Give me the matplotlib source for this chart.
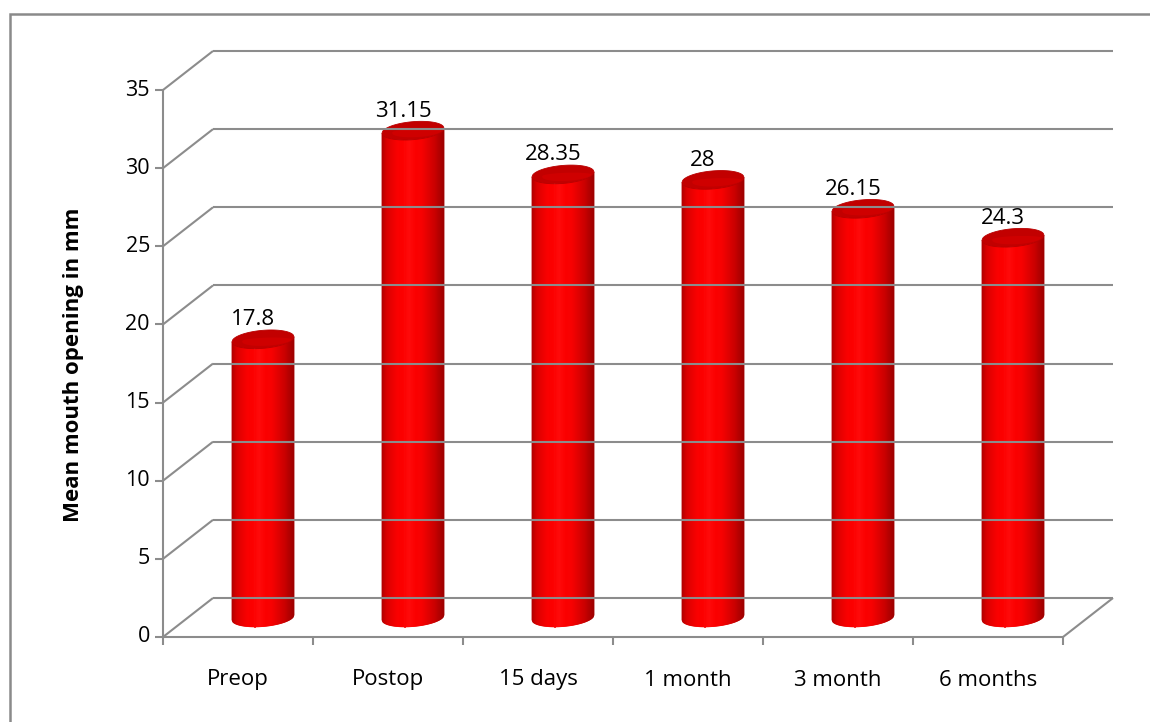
import numpy as np
import matplotlib
matplotlib.use("Agg")
import matplotlib.pyplot as plt
from matplotlib.patches import Polygon, Rectangle
from matplotlib.lines import Line2D
from matplotlib.transforms import IdentityTransform

plt.rcParams['font.family'] = ['Open Sans', 'DejaVu Sans']

categories = ["Preop", "Postop", "15 days", "1 month", "3 month", "6 months"]
mean_opening = [17.8, 31.15, 28.35, 28, 26.15, 24.3]
value_labels = ["17.8", "31.15", "28.35", "28", "26.15", "24.3"]
y_ticks = [0, 5, 10, 15, 20, 25, 30, 35]
y_label = "Mean mouth opening in mm"

W, H = 1150, 722
DX, DY = 50, 39          # depth of the floor / back wall in pixels
GRID = "#8c8c8c"

fig = plt.figure(figsize=(W / 100, H / 100), dpi=100)
ax = fig.add_axes([163 / W, (H - 637) / H, 900 / W, 547 / H])
ax.set_xlim(0, len(categories))
ax.set_ylim(0, 35)
ax.axis("off")
ident = IdentityTransform()


def px(x, y):
    return ax.transData.transform((x, y))


def seg(p, q, **kw):
    fig.add_artist(Line2D([p[0], q[0]], [p[1], q[1]], transform=ident,
                          color=GRID, lw=1.5, solid_capstyle="butt", **kw))


# outer frame
fig.add_artist(Rectangle((10, -20), W + 40, H - 14 + 20, transform=ident,
                         fill=False, ec="#8a8a8a", lw=1.8))

n = len(categories)
# gridlines: side wall diagonal + back wall line
for t in y_ticks:
    f0 = px(0, t)
    b0 = f0 + (DX, DY)
    b1 = px(n, t) + (DX, DY)
    seg(f0, b0)
    seg(b0, b1)
    seg(f0 - (8, 0), f0)
    ax.text(f0[0] - 13, f0[1], str(t), transform=ident, ha="right",
            va="center", fontsize=15.5)

# front axis, floor edge and category ticks
seg(px(0, 0), px(0, 35))
seg(px(0, 0), px(n, 0))
seg(px(n, 0), px(n, 0) + (DX, DY))
for i in range(n + 1):
    p = px(i, 0)
    seg(p, p - (0, 8))

for i, c in enumerate(categories):
    p = px(i + 0.5, 0)
    ax.text(p[0], p[1] - 43, c, transform=ident, ha="center", va="center",
            fontsize=16)

fig.text(74, H - 365, y_label, transform=ident, rotation=90, ha="center",
         va="center", fontsize=16, fontweight="bold")

# cylinders
A, B, S = 31, 9, 0.08
u_edges = np.linspace(-A, A, 65)


def lower(u):
    return S * u - B * np.sqrt(np.clip(1 - (u / A) ** 2, 0, 1))


def upper(u):
    return S * u + B * np.sqrt(np.clip(1 - (u / A) ** 2, 0, 1))


def shade(u):
    t = (u + A) / (2 * A)
    r = np.interp(t, [0, 0.08, 0.25, 0.45, 0.65, 0.85, 1.0],
                  [0.68, 0.85, 0.98, 1.0, 0.97, 0.80, 0.62])
    g = np.interp(t, [0, 0.35, 0.45, 0.55, 1.0], [0, 0.0, 0.04, 0.0, 0])
    return (r, g, g)


for i, v in enumerate(mean_opening):
    base = px(i + 0.5, 0) + (DX / 2, DY / 2)
    top = px(i + 0.5, v) + (DX / 2, DY / 2)
    h = top[1] - base[1]
    for u0, u1 in zip(u_edges[:-1], u_edges[1:]):
        col = shade(0.5 * (u0 + u1))
        pts = [(base[0] + u0, base[1] + lower(u0)),
               (base[0] + u1, base[1] + lower(u1)),
               (base[0] + u1, base[1] + h + lower(u1)),
               (base[0] + u0, base[1] + h + lower(u0))]
        fig.add_artist(Polygon(pts, closed=True, transform=ident, fc=col,
                               ec=col, lw=0.6))
    uu = np.linspace(-A, A, 80)
    cap = np.vstack([np.c_[uu, lower(uu)], np.c_[uu[::-1], upper(uu[::-1])]])
    fig.add_artist(Polygon(cap + top, closed=True, transform=ident,
                           fc="#c20000", ec="#b80000", lw=0.6))
    inner = np.vstack([np.c_[uu * 0.8 + 4, lower(uu) * 0.6 - 1],
                       np.c_[uu[::-1] * 0.8 + 4, upper(uu[::-1]) * 0.3 - 1]])
    fig.add_artist(Polygon(inner + top, closed=True, transform=ident,
                           fc="#d80000", ec="none", alpha=0.6))
    lab = px(i + 0.5, v) + (15, DY)
    ax.text(lab[0], lab[1], value_labels[i], transform=ident, ha="center",
            va="center", fontsize=16)

fig.savefig("out.png", dpi=100)
